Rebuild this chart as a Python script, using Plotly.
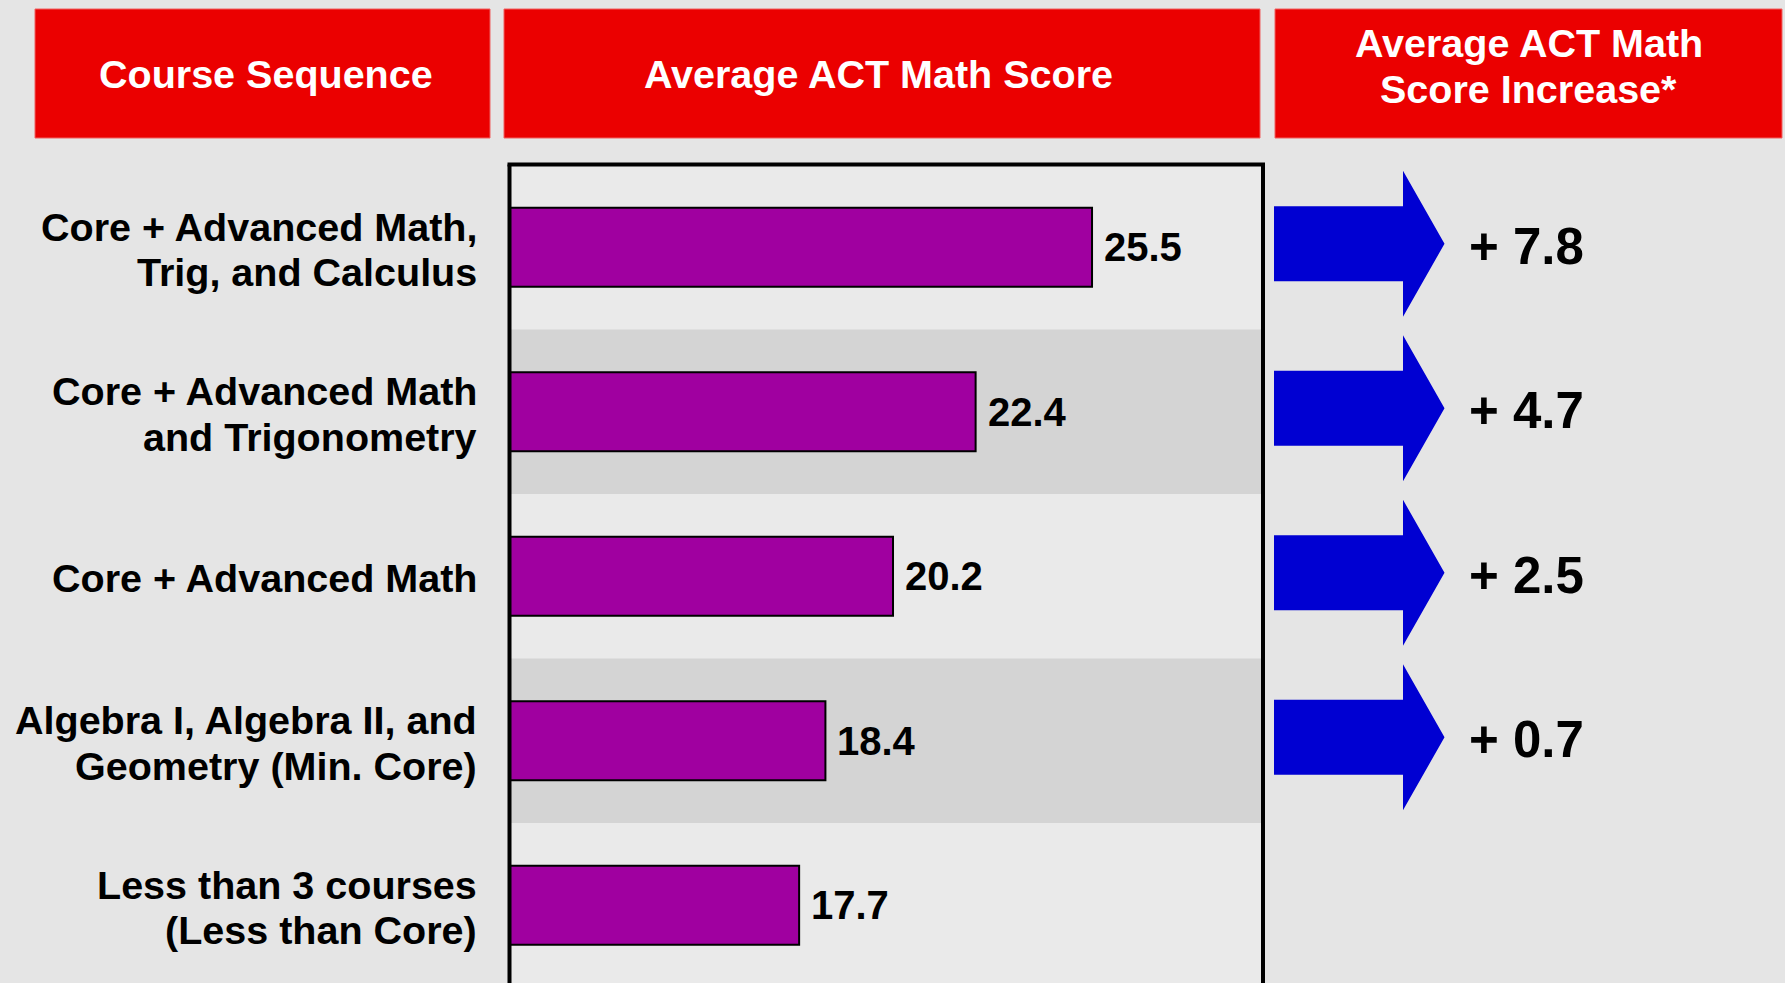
import plotly.graph_objects as go

# ---------------- data ----------------
categories = [
    "Core + Advanced Math,<br>Trig, and Calculus",
    "Core + Advanced Math<br>and Trigonometry",
    "Core + Advanced Math",
    "Algebra I, Algebra II, and<br>Geometry (Min. Core)",
    "Less than 3 courses<br>(Less than Core)",
]
scores = [25.5, 22.4, 20.2, 18.4, 17.7]
increases = [7.8, 4.7, 2.5, 0.7]
headers = ["Course Sequence", "Average ACT Math Score", "Average ACT Math<br>Score Increase*"]

# ---------------- layout geometry (pixels) ----------------
W_FIG, H_FIG = 1785, 983
L, R, T = 510, 1261, 165
PW, PH = R - L, H_FIG - T
ROW_PX = 164.5

def px_x(px):
    return (px - L) / PW

def px_y(py):
    return (H_FIG - py) / PH

FONT = "Liberation Sans, Arial, Helvetica, sans-serif"
RED = "#eb0000"
BLUE = "#0000d2"
PURPLE = "#a000a0"
BG = "#e5e5e5"
LIGHT = "#eaeaea"
DARK = "#d4d4d4"

rows = list(range(len(categories)))
y_bottom = -0.5 + (H_FIG - T) / ROW_PX

fig = go.Figure()
fig.add_trace(go.Bar(
    x=scores, y=rows, orientation="h", width=0.48,
    marker=dict(color=PURPLE, line=dict(color="black", width=2)),
    hoverinfo="skip", showlegend=False,
))

shapes = []
annotations = []

# row bands
for i in rows:
    if i % 2 == 1:
        shapes.append(dict(type="rect", xref="paper", yref="y", x0=0, x1=1,
                           y0=i - 0.5, y1=i + 0.5, fillcolor=DARK,
                           line=dict(width=0), layer="below"))

# frame (left, top, right)
shapes.append(dict(type="line", xref="paper", yref="paper", x0=px_x(509.5), x1=px_x(509.5),
                   y0=-0.05, y1=px_y(164.5), line=dict(color="black", width=4)))
shapes.append(dict(type="line", xref="paper", yref="paper", x0=px_x(507.5), x1=px_x(1265),
                   y0=px_y(164.5), y1=px_y(164.5), line=dict(color="black", width=4)))
shapes.append(dict(type="line", xref="paper", yref="paper", x0=px_x(1263), x1=px_x(1263),
                   y0=-0.05, y1=px_y(164.5), line=dict(color="black", width=4)))

# header boxes
boxes = [(35, 490), (504, 1260), (1275, 1782)]
text_dx = [3, -4, 0]
for (x0, x1), h, dx in zip(boxes, headers, text_dx):
    shapes.append(dict(type="rect", xref="paper", yref="paper",
                       x0=px_x(x0), x1=px_x(x1), y0=px_y(138), y1=px_y(9),
                       fillcolor=RED, line=dict(color="#f06060", width=1)))
    lines = h.split("<br>")
    cx = px_x((x0 + x1) / 2 + dx)
    if len(lines) == 1:
        ys = [73.5]
    else:
        ys = [43, 89]
    for ln, yy in zip(lines, ys):
        annotations.append(dict(xref="paper", yref="paper", x=cx, y=px_y(yy),
                                text=ln, showarrow=False, xanchor="center", yanchor="middle",
                                font=dict(family=FONT, size=39.5, color="white", weight="bold")))

# category labels (right aligned)
for i, c in enumerate(categories):
    lines = c.split("<br>")
    n = len(lines)
    for k, ln in enumerate(lines):
        shift = -(k - (n - 1) / 2) * 45.5 - 2
        annotations.append(dict(xref="paper", yref="y", x=px_x(479), y=i, yshift=shift,
                                text=ln, showarrow=False, xanchor="right", yanchor="middle",
                                font=dict(family=FONT, size=39.5, color="black", weight="bold")))

# value labels
for i, s in enumerate(scores):
    annotations.append(dict(xref="x", yref="y", x=s, y=i, xshift=10, text=f"{s:.1f}",
                            showarrow=False, xanchor="left", yanchor="middle",
                            font=dict(family=FONT, size=40, color="black", weight="bold")))

# arrows + increases
for i, inc in enumerate(increases):
    c = i - 3.5 / ROW_PX
    d = lambda p: p / ROW_PX
    xs = [1274, 1403, 1403, 1444.5, 1403, 1403, 1274]
    ys = [c - d(37.5), c - d(37.5), c - d(73), c, c + d(73), c + d(37.5), c + d(37.5)]
    path = "M " + " L ".join(f"{px_x(x)},{y}" for x, y in zip(xs, ys)) + " Z"
    shapes.append(dict(type="path", xref="paper", yref="y", path=path,
                       fillcolor=BLUE, line=dict(width=0)))
    annotations.append(dict(xref="paper", yref="y", x=px_x(1467), y=i - 1 / ROW_PX,
                            text=f"+ {inc:.1f}", showarrow=False, xanchor="left", yanchor="middle",
                            font=dict(family=FONT, size=51, color="black", weight="bold")))

fig.update_layout(
    width=W_FIG, height=H_FIG,
    margin=dict(l=L, r=W_FIG - R, t=T, b=0, pad=0),
    paper_bgcolor=BG, plot_bgcolor=LIGHT,
    xaxis=dict(range=[10, 30], showgrid=False, zeroline=False, showticklabels=False,
               showline=False, fixedrange=True),
    yaxis=dict(range=[y_bottom, -0.5], showgrid=False, zeroline=False, showticklabels=False,
               showline=False, fixedrange=True),
    shapes=shapes, annotations=annotations, showlegend=False,
)

fig.write_html(
    "out.html",
    config={"displayModeBar": False},
    post_script="document.body.style.margin='0px';document.body.style.background='" + BG + "';",
)
